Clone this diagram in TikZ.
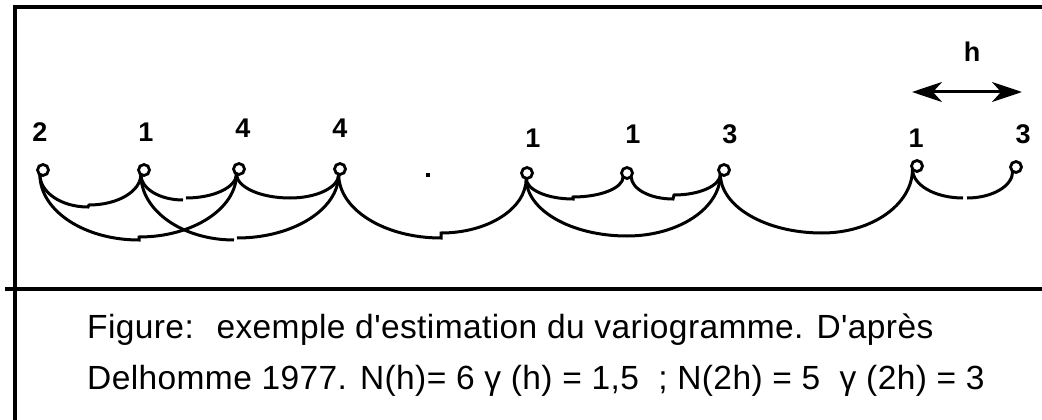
\documentclass[tikz,border=0pt]{standalone}
\usepackage{fontspec}
\setmainfont{Liberation Sans}
\newfontfamily\capfont[LetterSpace=1.2,Ligatures=TeXOff]{Liberation Sans}
\usetikzlibrary{calc,arrows.meta}

\tikzset{
  % half of a pair arc: quarter ellipse going down from a point to the bottom
  sagdown/.style={to path={.. controls ($(\tikztostart)!0.552!(\tikztostart|-\tikztotarget)$)
      and ($(\tikztotarget)!0.552!(\tikztostart|-\tikztotarget)$) .. (\tikztotarget)}},
  % other half: quarter ellipse rising from the bottom to the next point
  sagup/.style={to path={.. controls ($(\tikztostart)!0.552!(\tikztotarget|-\tikztostart)$)
      and ($(\tikztotarget)!0.552!(\tikztotarget|-\tikztostart)$) .. (\tikztotarget)}},
  sample/.style={circle, draw, line width=2.8pt, minimum size=11pt, inner sep=0pt, outer sep=0pt},
  pairarc/.style={line width=3pt},
  lab/.style={font=\bfseries\fontsize{27}{32}\selectfont, inner sep=0pt, anchor=base},
  captext/.style={font=\capfont\fontsize{33.5}{40}\selectfont, inner sep=0pt, anchor=base west},
  frameline/.style={line width=4pt},
}

\begin{document}
\begin{tikzpicture}[x=1pt, y=-1pt]
\useasboundingbox (0,0) rectangle (1042,420);

% frame and separator
\draw[frameline] (15,7) rectangle (1050,421.5);
\draw[frameline] (5,289) -- (1050,289);

% sample points
\node[sample] (p1) at (43,170) {};
\node[sample] (p2) at (144,170) {};
\node[sample] (p3) at (239,169) {};
\node[sample] (p4) at (340,169) {};
\node[fill, inner sep=0pt, minimum size=4pt] (miss) at (428,175) {};
\node[sample] (p5) at (527,173) {};
\node[sample] (p6) at (627,173) {};
\node[sample] (p7) at (724,170) {};
\node[sample] (p8) at (917,166) {};
\node[sample] (p9) at (1016,167) {};

% values
\node[lab] (v1) at (40,141) {2};
\node[lab] (v2) at (146,141) {1};
\node[lab] (v3) at (243,137) {4};
\node[lab] (v4) at (340,137) {4};
\node[lab] (v5) at (533,147) {1};
\node[lab] (v6) at (633,143) {1};
\node[lab] (v7) at (730,143) {3};
\node[lab] (v8) at (916,147) {1};
\node[lab] (v9) at (1023,143) {3};

% lag h
\node[lab] (hlab) at (972,62) {h};
\coordinate (hl) at (912,92);
\coordinate (hr) at (1022,92);
\draw[line width=3pt, {Stealth[length=30pt,width=20pt,inset=9pt]}-{Stealth[length=30pt,width=20pt,inset=9pt]}] (hl) -- (hr);

% bottoms of the pair arcs
\coordinate (a1l) at (88,207);  \coordinate (a1r) at (89,205);
\coordinate (a2l) at (183,200); \coordinate (a2r) at (186,198);
\coordinate (a3)  at (290,198);
\coordinate (a4l) at (573,199); \coordinate (a4r) at (573,197);
\coordinate (a5l) at (673,199); \coordinate (a5r) at (674,195);
\coordinate (a6l) at (963,198); \coordinate (a6r) at (967,198);
\coordinate (b1l) at (139,240); \coordinate (b1r) at (139,237);
\coordinate (b2l) at (234,240); \coordinate (b2r) at (237,238);
\coordinate (b3l) at (441,238); \coordinate (b3r) at (441,233);
\coordinate (b4)  at (627,236);
\coordinate (b5)  at (822,233);

% pairs at distance h
\draw[pairarc] (p1.236) to[sagdown] (a1l) -- (a1r) to[sagup] (p2.235);
\draw[pairarc] (p2.235) to[sagdown] (a2l) (a2r) to[sagup] (p3.243);
\draw[pairarc] (p3.243) to[sagdown] (a3) to[sagup] (p4.256);
\draw[pairarc] (p5.262) to[sagdown] (a4l) -- (a4r) to[sagup] (p6.225);
\draw[pairarc] (p6.320) to[sagdown] (a5l) -- (a5r) to[sagup] (p7.229);
\draw[pairarc] (p8.215) to[sagdown] (a6l) (a6r) to[sagup] (p9.233);

% pairs at distance 2h
\draw[pairarc] (p1.236) to[sagdown] (b1l) -- (b1r) to[sagup] (p3.243);
\draw[pairarc] (p2.235) to[sagdown] (b2l) (b2r) to[sagup] (p4.256);
\draw[pairarc] (p4.256) to[sagdown] (b3l) -- (b3r) to[sagup] (p5.262);
\draw[pairarc] (p5.262) to[sagdown] (b4) to[sagup] (p7.229);
\draw[pairarc] (p7.229) to[sagdown] (b5) to[sagup] (p8.215);

% caption
\node[captext] (cap1) at (87,338) {Figure:~ exemple d'estimation du variogramme. D'après};
\node[captext] (cap2) at (87,389) {Delhomme 1977. N(h)= 6 γ (h) = 1,5~ ; N(2h) = 5~ γ (2h) = 3};
\end{tikzpicture}
\end{document}
